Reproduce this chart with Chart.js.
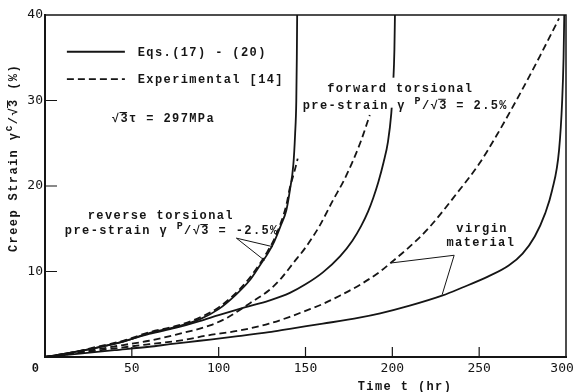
<!DOCTYPE html>
<html><head><meta charset="utf-8">
<script src="https://cdn.jsdelivr.net/npm/chart.js@4"></script>
<style>html,body{margin:0;padding:0;background:#fff}#wrap{width:574px;height:392px}</style>
</head><body><div id="wrap"><canvas id="c" width="574" height="392"></canvas></div>
<script>
// ---- data (time in hr, strain in %) ----
const xTicks = [0, 50, 100, 150, 200, 250, 300];
const yTicks = [0, 10, 20, 30, 40];

const reverseModelTime   = [0,15,30,45,60,75,89,100,110,118,124,128,132,136,139,141,143,144,144.7,145,145.2];
const reverseModelStrain = [0,0.5,1.1,1.8,2.8,3.5,4.4,5.6,7.3,9.0,10.8,12.0,13.5,15.5,17.2,19.5,22.5,26,30,35,40];

const reverseExpTime   = [0,15,30,45,60,75,89,100,110,118,124,128,132,136,139,141,143.5,145.5];
const reverseExpStrain = [0,0.5,1.2,1.9,2.9,3.6,4.6,5.8,7.5,9.3,11.0,12.3,13.8,15.8,17.8,19.8,21.6,23.2];

const forwardModelTime   = [0,15,30,45,60,75,89,100,115,129,141,150,160,170,177,182,186,189,192,195,197.5,199.4,200.5,201.2,201.5];
const forwardModelStrain = [0,0.5,1.1,1.8,2.7,3.4,4.2,4.9,5.8,6.6,7.5,8.5,9.9,11.8,13.6,15.3,17.0,18.6,20.5,22.8,25.2,28.5,32,36,40];

const forwardExpTime   = [0,15,30,45,60,75,95,105,118,129,136,143,150,158,166,172,177,182,187];
const forwardExpStrain = [0,0.4,0.9,1.4,1.9,2.6,3.7,4.6,6.3,7.8,9.2,11.0,12.8,15.3,18.4,20.6,22.8,25.3,28.3];

const virginModelTime   = [0,20,40,60,72,89,110,129,141,160,181,193,210,229,240,255,267,275,282,288,292,296,297.8,298.6,299];
const virginModelStrain = [0,0.4,0.8,1.2,1.5,1.9,2.4,2.9,3.3,3.9,4.6,5.1,6.0,7.2,8.1,9.4,10.7,12.1,14.1,16.8,19.5,24.2,30,35,40];

const virginExpTime   = [0,20,40,60,80,93,112,129,141,150,160,170,181,193,199,210,221,237,250,260,273,285,296];
const virginExpStrain = [0,0.5,1.0,1.5,2.0,2.5,3.1,3.9,4.7,5.4,6.2,7.2,8.4,10.0,11.0,12.9,15.1,19.1,22.6,25.9,30.6,35.2,39.6];

// leader lines from labels to curves
const reversePointerTime   = [131.2, 110.2, 126.4];
const reversePointerStrain = [12.9, 13.9, 11.3];
const virginPointerTime    = [199.4, 235.6, 228.7];
const virginPointerStrain  = [11.0, 11.9, 7.3];

// ---- build ----
const INK = '#151515';
const pts = (t, v) => t.map((x, i) => ({x, y: v[i]}));
const curve = (t, v, dashed) => ({
  data: pts(t, v), showLine: true, borderColor: INK, borderWidth: 1.8,
  borderDash: dashed ? [7, 4] : [], pointRadius: 0, cubicInterpolationMode: 'monotone', fill: false
});
const leader = (t, v) => ({
  data: pts(t, v), showLine: true, borderColor: INK, borderWidth: 1, pointRadius: 0, tension: 0, fill: false
});

const BASE = 'bold 12px "Liberation Mono", "DejaVu Sans Mono", monospace';
const SUP  = 'bold 10px "Liberation Mono", "DejaVu Sans Mono", monospace';

function drawRich(ctx, parts, x, y, align) {
  let w = 0;
  parts.forEach(p => { ctx.font = p[1] === 'sup' ? SUP : BASE; w += ctx.measureText(p[0]).width; });
  let cx = align === 'center' ? x - w / 2 : (align === 'right' ? x - w : x);
  parts.forEach(p => {
    ctx.font = p[1] === 'sup' ? SUP : BASE;
    const dy = p[1] === 'sup' ? -5 : 0;
    ctx.fillText(p[0], cx, y + dy);
    const pw = ctx.measureText(p[0]).width;
    if (p[1] === 'ov') ctx.fillRect(cx - 1, y - 10, pw - 1, 1);
    cx += pw;
  });
  return w;
}

const overlay = {
  id: 'overlay',
  afterDatasetsDraw(chart) {
    const {ctx, chartArea: a, scales: {x, y}} = chart;
    ctx.save();
    ctx.strokeStyle = INK; ctx.fillStyle = INK;
    // frame top/right
    ctx.lineWidth = 1.5;
    ctx.beginPath(); ctx.moveTo(a.left, a.top); ctx.lineTo(a.right, a.top); ctx.lineTo(a.right, a.bottom); ctx.stroke();
    // inward ticks
    ctx.lineWidth = 1.2;
    ctx.beginPath();
    xTicks.forEach(v => { if (v <= 0 || v >= 300) return; const px = x.getPixelForValue(v); ctx.moveTo(px, a.bottom); ctx.lineTo(px, a.bottom - 10); });
    yTicks.forEach(v => { if (v <= 0 || v >= 40) return; const py = y.getPixelForValue(v); ctx.moveTo(a.left, py); ctx.lineTo(a.left + 12, py); });
    ctx.stroke();

    ctx.letterSpacing = '1.4px';
    ctx.textBaseline = 'alphabetic';
    const X = v => x.getPixelForValue(v), Y = v => y.getPixelForValue(v);

    // legend
    ctx.lineWidth = 1.8;
    ctx.beginPath(); ctx.setLineDash([]); ctx.moveTo(X(12.6), Y(35.7)); ctx.lineTo(X(46), Y(35.7)); ctx.stroke();
    ctx.beginPath(); ctx.setLineDash([7, 4]); ctx.moveTo(X(12.6), Y(32.5)); ctx.lineTo(X(46), Y(32.5)); ctx.stroke();
    ctx.setLineDash([]);
    drawRich(ctx, [['Eqs.(17) - (20)']], X(53.4), Y(35.7) + 4, 'left');
    drawRich(ctx, [['Experimental [14]']], X(53.4), Y(32.5) + 4, 'left');
    drawRich(ctx, [['√'], ['3', 'ov'], ['τ = 297MPa']], X(38.5), Y(27.95) + 4, 'left');

    // forward label with white backing
    const fl1 = [['forward torsional']];
    const fl2 = [['pre-strain γ '], ['P', 'sup'], ['/√'], ['3', 'ov'], [' = 2.5%']];
    ctx.fillStyle = '#fff';
    ctx.fillRect(X(204.6) - 88, Y(31.5) - 10, 188, 30);
    ctx.fillStyle = INK;
    drawRich(ctx, fl1, X(204.6), Y(31.5) + 4, 'center');
    drawRich(ctx, fl2, X(207.5), Y(29.5) + 4, 'center');

    // reverse label
    drawRich(ctx, [['reverse torsional']], X(66.7), Y(16.6) + 4, 'center');
    drawRich(ctx, [['pre-strain γ '], ['P', 'sup'], ['/√'], ['3', 'ov'], [' = -2.5%']], X(73), Y(14.85) + 4, 'center');

    // virgin label
    drawRich(ctx, [['virgin']], X(251.7), Y(15.1) + 4, 'center');
    drawRich(ctx, [['material']], X(251), Y(13.45) + 4, 'center');

    // corner zero
    drawRich(ctx, [['0']], 36, 372, 'center');

    // x title
    drawRich(ctx, [['Time t (hr)']], 405, 390, 'center');

    // y title (rotated)
    ctx.save();
    ctx.translate(17, 158);
    ctx.rotate(-Math.PI / 2);
    drawRich(ctx, [['Creep Strain γ'], ['c', 'sup'], ['/√'], ['3', 'ov'], [' (%)']], 0, 0, 'center');
    ctx.restore();

    ctx.restore();
  }
};

new Chart(document.getElementById('c'), {
  type: 'scatter',
  data: {
    datasets: [
      curve(reverseModelTime, reverseModelStrain, false),
      curve(reverseExpTime, reverseExpStrain, true),
      curve(forwardModelTime, forwardModelStrain, false),
      curve(forwardExpTime, forwardExpStrain, true),
      curve(virginModelTime, virginModelStrain, false),
      curve(virginExpTime, virginExpStrain, true),
      leader(reversePointerTime, reversePointerStrain),
      leader(virginPointerTime, virginPointerStrain)
    ]
  },
  options: {
    responsive: false, animation: false, devicePixelRatio: 1,
    layout: {padding: {top: 15, right: 8, left: 0, bottom: 0}},
    plugins: {legend: {display: false}, tooltip: {enabled: false}},
    scales: {
      x: {
        type: 'linear', min: 0, max: 300,
        afterBuildTicks: s => { s.ticks = xTicks.map(v => ({value: v})); },
        ticks: {callback: v => v === 0 ? '' : (v === 300 ? '300\u00a0' : String(v)), color: INK, padding: 4, maxRotation: 0,
                font: {family: '"DejaVu Sans Mono", monospace', size: 13}},
        grid: {display: false, drawTicks: false},
        border: {display: true, color: INK, width: 2},
        afterFit: s => { s.height = 35; s.paddingLeft = 0; s.paddingRight = 0; }
      },
      y: {
        type: 'linear', min: 0, max: 40,
        afterBuildTicks: s => { s.ticks = yTicks.map(v => ({value: v})); },
        ticks: {callback: v => v === 0 ? '' : String(v), color: INK, padding: 2,
                font: {family: '"DejaVu Sans Mono", monospace', size: 13}},
        grid: {display: false, drawTicks: false},
        border: {display: true, color: INK, width: 2},
        afterFit: s => { s.width = 45; s.paddingTop = 0; s.paddingBottom = 0; }
      }
    }
  },
  plugins: [overlay]
});
</script>
</body></html>
